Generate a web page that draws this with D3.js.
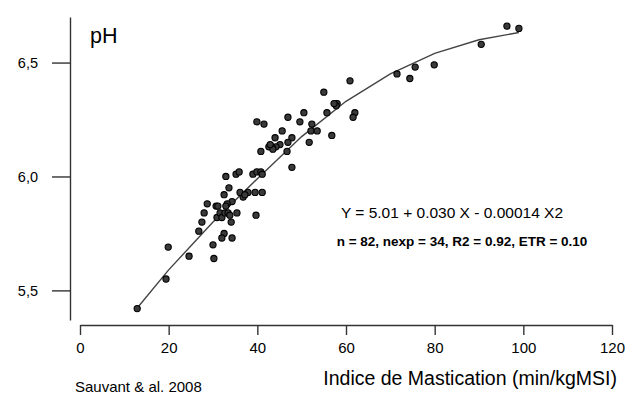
<!DOCTYPE html>
<html>
<head>
<meta charset="utf-8">
<script src="https://cdn.jsdelivr.net/npm/d3@7"></script>
<style>
  body { margin: 0; background: #fff; }
  svg { display: block; font-family: "Liberation Sans", Arial, sans-serif; }
  .axis path, .axis line { stroke: #333; stroke-width: 1.4; }
  .axis text { fill: #000; }
</style>
</head>
<body>
<div id="chart"></div>
<script>
// Indice de mastication (min/kgMSI) par observation
const mastication = [
  12.9, 19.4, 19.9, 24.6, 26.8, 27.5, 28.0, 28.7, 30.0, 30.2,
  30.7, 31.1, 30.9, 31.6, 32.0, 32.7, 32.5, 33.6, 32.5, 32.0,
  34.3, 34.1, 35.4, 33.4, 34.3, 33.2, 39.7, 39.5, 41.1, 37.9,
  36.8, 36.1, 32.9, 35.2, 35.9, 39.0, 39.9, 40.8, 41.1, 39.9,
  41.5, 46.9, 50.5, 49.6, 52.3, 52.1, 53.5, 51.7, 45.6, 44.0,
  47.8, 46.9, 45.1, 44.2, 43.3, 42.6, 43.5, 40.8, 46.7, 47.8,
  60.9, 55.0, 71.5, 75.6, 74.4, 58.0, 57.8, 62.0, 61.6, 55.7,
  56.8, 96.3, 99.0, 90.5, 79.9, 37.2, 33.8, 42.9, 57.3, 32.9
];
// pH ruminal observé
const ph = [
  5.42, 5.55, 5.69, 5.65, 5.76, 5.80, 5.84, 5.88, 5.70, 5.64,
  5.87, 5.87, 5.82, 5.84, 5.82, 5.84, 5.92, 5.95, 5.75, 5.73,
  5.73, 5.80, 5.84, 5.84, 5.89, 5.88, 5.83, 5.93, 5.93, 5.93,
  5.91, 5.93, 6.00, 6.01, 6.02, 6.01, 6.02, 6.02, 6.01, 6.24,
  6.23, 6.26, 6.28, 6.24, 6.23, 6.20, 6.20, 6.15, 6.20, 6.17,
  6.17, 6.15, 6.14, 6.13, 6.13, 6.13, 6.12, 6.11, 6.11, 6.04,
  6.42, 6.37, 6.45, 6.48, 6.43, 6.32, 6.31, 6.28, 6.26, 6.28,
  6.18, 6.66, 6.65, 6.58, 6.49, 5.92, 5.83, 6.14, 6.32, 5.87
];

// courbe ajustée
const fitX = [13, 20, 30, 40, 50, 60, 70, 80, 90, 99];
const fitY = [5.425, 5.59, 5.80, 5.99, 6.175, 6.33, 6.45, 6.54, 6.60, 6.632];

const xTicks = [0, 20, 40, 60, 80, 100, 120];
const yTicks = [5.5, 6.0, 6.5];
const yTickLabels = ['5,5', '6,0', '6,5'];

const width = 633;
const height = 394;

const svg = d3.select('#chart')
  .append('svg')
  .attr('width', width)
  .attr('height', height);

const x = d3.scaleLinear().domain([0, 120]).range([80, 612]);
const y = d3.scaleLinear().domain([5.37, 6.70]).range([320, 17]);

// axe Y
const yAxis = svg.append('g')
  .attr('class', 'axis')
  .attr('transform', 'translate(70,0)')
  .call(d3.axisLeft(y)
    .tickValues(yTicks)
    .tickFormat((d, i) => yTickLabels[i])
    .tickSize(18)
    .tickSizeOuter(0)
    .tickPadding(14));
yAxis.selectAll('text').style('font-size', '14.5px');

// axe X
const xAxis = svg.append('g')
  .attr('class', 'axis')
  .attr('transform', 'translate(0,325)')
  .call(d3.axisBottom(x)
    .tickValues(xTicks)
    .tickSize(10)
    .tickSizeOuter(0)
    .tickPadding(7));
xAxis.selectAll('text').style('font-size', '15px');

// courbe de régression
const line = d3.line()
  .x((d, i) => x(fitX[i]))
  .y(d => y(d));

svg.append('path')
  .datum(fitY)
  .attr('d', line)
  .attr('fill', 'none')
  .attr('stroke', '#444')
  .attr('stroke-width', 1.4);

// points
svg.selectAll('.pt')
  .data(mastication)
  .enter()
  .append('circle')
  .attr('class', 'pt')
  .attr('cx', d => x(d))
  .attr('cy', (d, i) => y(ph[i]))
  .attr('r', 3.1)
  .attr('fill', '#3a3a3a')
  .attr('stroke', '#000')
  .attr('stroke-width', 1.1);

// textes
svg.append('text')
  .attr('x', 90)
  .attr('y', 43)
  .style('font-size', '21.5px')
  .text('pH');

svg.append('text')
  .attr('x', 452)
  .attr('y', 218)
  .attr('text-anchor', 'middle')
  .style('font-size', '15.5px')
  .text('Y = 5.01 + 0.030 X - 0.00014 X2');

svg.append('text')
  .attr('x', 462)
  .attr('y', 246)
  .attr('text-anchor', 'middle')
  .style('font-size', '13.5px')
  .style('font-weight', 'bold')
  .text('n = 82, nexp = 34, R2 = 0.92, ETR = 0.10');

svg.append('text')
  .attr('x', 617)
  .attr('y', 385)
  .attr('text-anchor', 'end')
  .style('font-size', '19.5px')
  .text('Indice de Mastication (min/kgMSI)');

svg.append('text')
  .attr('x', 75)
  .attr('y', 392)
  .style('font-size', '15px')
  .text('Sauvant & al. 2008');
</script>
</body>
</html>
